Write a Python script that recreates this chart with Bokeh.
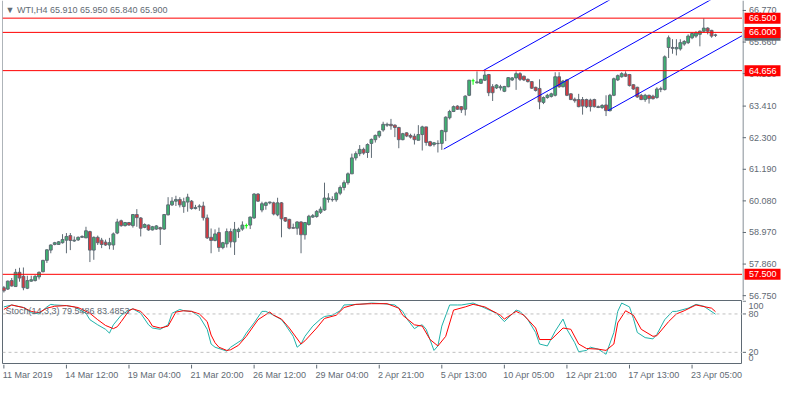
from bokeh.plotting import figure
from bokeh.layouts import column, row
from bokeh.models import Range1d, Span, Label, ColumnDataSource
from bokeh.embed import file_html
from bokeh.resources import INLINE
from bokeh.core.properties import value

# ---------------- data (WTI, H4) ----------------
opens = [57.03, 56.98, 57.28, 57.07, 57.57, 57.43, 57.01, 57.26, 57.28, 57.41,
         57.59, 57.99, 58.35, 58.55, 58.55, 58.61, 58.70, 58.86, 58.67, 58.71,
         58.80, 58.78, 59.00, 58.35, 58.80, 58.70, 58.63, 58.53, 58.53, 58.95,
         59.38, 59.21, 59.32, 59.21, 59.60, 59.48, 59.15, 59.23, 59.06, 59.09,
         59.14, 59.09, 59.59, 59.94, 60.07, 60.13, 59.88, 60.04, 60.07, 59.81,
         59.87, 59.90, 59.48, 58.80, 58.69, 58.97, 58.44, 58.57, 59.00, 58.64,
         59.00, 59.09, 59.21, 59.23, 59.48, 60.32, 59.76, 59.92, 60.01, 60.01,
         59.59, 60.01, 59.49, 59.43, 59.14, 59.12, 59.34, 58.89, 59.25, 59.51,
         59.53, 59.68, 59.76, 60.13, 60.13, 60.12, 60.35, 60.55, 60.72, 61.03,
         61.59, 61.74, 61.89, 61.78, 62.10, 62.23, 62.36, 62.57, 62.74, 62.77,
         62.74, 62.66, 62.23, 62.47, 62.38, 62.35, 62.21, 62.41, 62.68, 62.16,
         62.06, 62.09, 62.10, 62.51, 63.00, 63.22, 63.41, 63.39, 63.30, 63.79,
         64.30, 64.23, 64.21, 64.32, 64.52, 64.09, 64.05, 64.05, 63.93, 64.09,
         64.33, 64.40, 64.55, 64.46, 64.35, 64.27, 64.07, 64.03, 63.54, 63.71,
         63.75, 63.79, 64.44, 64.09, 64.33, 63.84, 63.65, 63.64, 63.64, 63.64,
         63.62, 63.64, 63.39, 63.36, 63.45, 63.25, 63.79, 64.33, 64.44, 64.54,
         64.52, 64.16, 64.07, 63.79, 63.64, 63.79, 63.76, 63.71, 64.00, 63.99,
         65.47, 65.47, 65.42, 65.42, 65.59, 65.64, 65.81, 65.87, 65.93, 66.04,
         66.15, 66.07, 65.91]
highs = [57.09, 57.28, 57.37, 57.69, 57.73, 57.74, 57.45, 57.45, 57.47, 57.60,
         58.01, 58.38, 58.55, 58.64, 58.67, 58.91, 58.95, 58.95, 58.83, 58.83,
         58.87, 59.17, 59.03, 58.83, 58.86, 58.78, 58.72, 58.78, 58.97, 59.45,
         59.42, 59.34, 59.34, 59.62, 59.79, 59.51, 59.29, 59.25, 59.20, 59.23,
         59.17, 59.62, 60.21, 60.21, 60.26, 60.21, 60.19, 60.33, 60.11, 59.94,
         59.96, 60.05, 59.60, 59.11, 59.08, 59.14, 58.64, 59.11, 59.11, 59.34,
         59.14, 59.36, 59.28, 59.53, 60.35, 60.35, 60.05, 60.05, 60.05, 60.05,
         60.19, 60.04, 59.51, 59.45, 59.28, 59.36, 59.36, 59.34, 59.59, 59.62,
         59.76, 59.88, 60.72, 60.35, 60.24, 60.40, 60.62, 60.80, 61.08, 61.74,
         61.82, 62.04, 61.95, 62.10, 62.27, 62.41, 62.55, 62.86, 62.83, 62.96,
         62.77, 62.68, 62.47, 62.49, 62.44, 62.44, 62.74, 62.72, 62.68, 62.19,
         62.15, 62.21, 62.58, 63.05, 63.28, 63.43, 63.44, 63.41, 63.79, 64.33,
         64.37, 64.63, 64.37, 64.65, 64.54, 64.18, 64.18, 64.16, 64.12, 64.43,
         64.43, 64.63, 64.60, 64.48, 64.38, 64.29, 64.09, 64.35, 63.75, 63.84,
         63.88, 64.60, 64.60, 64.33, 64.35, 63.86, 63.71, 63.84, 63.73, 63.67,
         63.67, 63.67, 63.43, 63.48, 63.79, 63.84, 64.41, 64.52, 64.60, 64.63,
         64.54, 64.18, 64.09, 63.84, 63.84, 63.81, 63.81, 64.07, 64.09, 65.19,
         65.89, 65.76, 65.76, 65.76, 65.73, 65.93, 66.00, 66.04, 66.07, 66.49,
         66.18, 66.09, 65.95]
lows = [56.86, 56.95, 57.07, 57.06, 57.24, 56.94, 56.98, 57.24, 57.25, 57.32,
        57.57, 57.90, 58.24, 58.52, 58.53, 58.58, 58.24, 58.35, 58.64, 58.67,
        58.78, 58.78, 57.93, 58.01, 58.53, 58.42, 58.50, 58.38, 58.36, 58.91,
        59.17, 59.18, 59.21, 59.14, 59.17, 58.83, 59.12, 59.03, 59.04, 59.06,
        58.53, 59.06, 59.57, 59.90, 59.90, 59.85, 59.66, 59.70, 59.77, 59.78,
        59.73, 59.39, 58.74, 58.24, 58.66, 58.29, 58.38, 58.44, 58.44, 58.18,
        58.78, 59.03, 59.11, 59.09, 59.45, 60.05, 59.68, 59.77, 59.96, 59.57,
        59.54, 58.80, 59.34, 59.08, 59.11, 58.89, 58.24, 58.72, 59.21, 59.48,
        59.49, 59.62, 59.73, 60.02, 60.05, 60.05, 60.28, 60.45, 60.65, 61.03,
        61.50, 61.65, 61.70, 61.59, 61.59, 62.13, 62.29, 62.51, 62.68, 62.58,
        62.32, 61.93, 62.21, 62.32, 62.27, 62.06, 62.21, 61.85, 62.02, 61.99,
        61.99, 61.78, 61.87, 62.18, 62.94, 63.20, 63.28, 63.17, 63.08, 63.76,
        64.16, 64.20, 64.20, 64.29, 63.76, 63.59, 64.01, 63.96, 63.90, 64.07,
        64.29, 63.98, 64.29, 64.29, 64.24, 64.01, 63.92, 63.30, 63.48, 63.67,
        63.71, 63.75, 64.05, 64.07, 63.76, 63.62, 63.53, 63.37, 63.11, 63.34,
        63.22, 63.36, 63.34, 63.31, 63.06, 63.22, 63.76, 64.29, 64.41, 64.43,
        64.10, 63.98, 63.70, 63.62, 63.56, 63.50, 63.64, 63.67, 63.90, 63.96,
        65.10, 65.25, 65.19, 65.36, 65.53, 65.59, 65.76, 65.81, 65.51, 66.00,
        65.93, 65.81, 65.84]
closes = [56.92, 57.26, 57.09, 57.57, 57.37, 57.03, 57.28, 57.31, 57.43, 57.57,
          57.99, 58.36, 58.53, 58.61, 58.64, 58.72, 58.83, 58.69, 58.70, 58.80,
          58.83, 59.03, 58.35, 58.80, 58.61, 58.55, 58.53, 58.61, 58.92, 59.34,
          59.21, 59.32, 59.23, 59.60, 59.49, 59.12, 59.25, 59.06, 59.17, 59.20,
          59.09, 59.60, 59.94, 60.07, 60.13, 59.94, 60.05, 60.21, 59.81, 59.85,
          59.90, 59.49, 58.78, 58.69, 58.92, 58.44, 58.61, 59.00, 58.64, 59.08,
          59.08, 59.23, 59.21, 59.51, 60.32, 60.07, 59.98, 60.01, 60.04, 59.62,
          60.01, 59.45, 59.37, 59.12, 59.12, 59.34, 58.89, 59.32, 59.54, 59.56,
          59.71, 59.79, 60.18, 60.18, 60.12, 60.35, 60.55, 60.72, 61.03, 61.59,
          61.74, 61.89, 61.76, 62.06, 62.24, 62.38, 62.52, 62.77, 62.77, 62.72,
          62.66, 62.23, 62.44, 62.36, 62.32, 62.23, 62.41, 62.68, 62.13, 62.02,
          62.12, 62.10, 62.55, 63.02, 63.22, 63.39, 63.30, 63.28, 63.76, 64.32,
          64.30, 64.26, 64.35, 64.50, 63.88, 63.88, 64.15, 64.09, 64.10, 64.41,
          64.40, 64.55, 64.35, 64.33, 64.27, 64.04, 63.96, 63.56, 63.71, 63.79,
          63.84, 64.44, 64.09, 64.29, 63.79, 63.64, 63.60, 63.39, 63.41, 63.39,
          63.39, 63.39, 63.36, 63.43, 63.25, 63.79, 64.37, 64.48, 64.55, 64.46,
          64.13, 64.01, 63.73, 63.64, 63.79, 63.67, 63.67, 64.01, 64.02, 65.14,
          65.81, 65.44, 65.47, 65.64, 65.68, 65.87, 65.96, 65.98, 66.04, 66.15,
          66.04, 65.87, 65.90]

price_ticks = [66.77, 65.66, 64.55, 63.41, 62.30, 61.19, 60.08, 58.97, 57.86, 56.75]
levels = [66.5, 66.0, 64.656, 57.5]
level_labels = ["66.500", "66.000", "64.656", "57.500"]
last_price = 65.90
last_label = "65.900"
header_text = "\u25bc WTI,H4  65.910 65.950 65.840 65.900"

# channel (trend) lines: start bar/price, end bar/price
chan_x0 = [122.5, 112.5, 154.5]
chan_y0 = [64.65, 61.90, 63.25]
chan_x1 = [188.9, 188.9, 188.9]
chan_y1 = [69.75, 67.77, 65.89]

# Stochastic(14,3,3) read at bar positions
stoch_k_x = [0, 2, 5, 7, 9, 11, 12, 13, 16, 18, 21, 22, 24, 26, 27, 28, 30, 32, 33, 35,
             37, 38, 40, 42, 43, 45, 46, 48, 50, 52, 53, 54, 57, 58, 61, 62, 64, 66, 67, 69,
             71, 72, 74, 75, 76, 77, 79, 81, 82, 84, 86, 87, 91, 94, 97, 100, 102, 103, 105, 106,
             107, 108, 110, 111, 112, 114, 116, 117, 120, 122, 126, 128, 131, 132, 134, 136, 137, 139, 141, 143,
             144, 146, 147, 149, 150, 152, 154, 156, 157, 158, 160, 161, 162, 164, 166, 167, 169, 171, 172, 175,
             177, 179, 182]
stoch_k = [91, 94, 90, 82, 80, 91, 95, 94, 93, 91, 81, 71, 63, 56, 50, 63, 78, 86, 88, 81,
           63, 58, 56, 63, 81, 87, 85, 84, 76, 56, 33, 28, 22, 28, 40, 50, 66, 84, 84, 78,
           71, 63, 45, 28, 33, 45, 61, 72, 76, 78, 85, 94, 95, 97, 96, 94, 84, 73, 57, 61,
           63, 56, 23, 30, 61, 94, 94, 94, 97, 92, 81, 68, 86, 84, 71, 51, 33, 30, 53, 72,
           56, 35, 21, 23, 28, 25, 17, 51, 84, 97, 91, 73, 51, 43, 41, 48, 71, 84, 84, 89,
           95, 92, 79.5486]
stoch_d_x = [0, 2, 5, 7, 9, 11, 13, 16, 19, 22, 24, 26, 28, 29, 30, 32, 33, 35, 37, 38,
             40, 42, 44, 46, 48, 50, 52, 53, 54, 55, 57, 58, 60, 62, 65, 68, 69, 71, 73, 76,
             77, 80, 82, 85, 87, 90, 94, 98, 101, 102, 105, 107, 109, 111, 113, 115, 118, 120, 123, 127,
             128, 131, 133, 136, 137, 140, 143, 145, 147, 149, 152, 154, 156, 157, 159, 161, 163, 166, 167, 170,
             172, 174, 177, 181, 182]
stoch_d = [87, 94, 90, 84, 82, 89, 92, 93, 90, 81, 71, 62, 57, 60, 68, 85, 88, 84, 71, 61,
           58, 61, 83, 85, 84, 80, 68, 47, 35, 28, 23, 24, 31, 45, 71, 83, 78, 72, 58, 33,
           38, 58, 73, 78, 90, 95, 96, 96, 89, 78, 63, 61, 40, 30, 45, 86, 91, 95, 91, 78,
           72, 84, 78, 58, 40, 40, 58, 56, 33, 26, 25, 23, 33, 66, 85, 78, 56, 45, 46, 68,
           80, 85, 94, 89, 83.4853]
stoch_levels = [80, 20]
stoch_ticks = [0, 20, 80, 100]
stoch_tick_labels = ["0", "20", "80", "100"]
stoch_text = "Stoch(14,3,3) 79.5486 83.4853"

date_tick_idx = [0, 16, 32, 48, 64, 80, 96, 112, 128, 144, 160, 176]
date_labels = ["11 Mar 2019", "14 Mar 12:00", "19 Mar 04:00", "21 Mar 20:00",
               "26 Mar 12:00", "29 Mar 04:00", "2 Apr 21:00", "5 Apr 13:00",
               "10 Apr 05:00", "12 Apr 21:00", "17 Apr 13:00", "23 Apr 05:00"]

# ---------------- styling ----------------
GRAY = "#5f6a74"
UP = "#3cb371"
DOWN = "#d9363e"
DOJI = "#00ff00"
FONT = "Liberation Sans"
FS = "9px"

W = 784
LB, RB = 2, 42
H_P, H_S, H_T = 300, 64, 20
FRAME_W = W - LB - RB
X0, X1 = -0.35, 188.9
Y0, Y1 = 56.58, 67.12
xr = Range1d(X0, X1)
yr_p = Range1d(Y0, Y1)
yr_s = Range1d(1, 101)


def bare(fig):
    fig.grid.visible = False
    fig.background_fill_color = "white"
    fig.border_fill_color = "white"
    return fig


def base(width, height, x_range, y_range, left=0):
    return bare(figure(width=width, height=height, x_range=x_range, y_range=y_range,
                       x_axis_location=None, y_axis_location=None,
                       output_backend="svg", toolbar_location=None,
                       min_border_left=left, min_border_right=0,
                       min_border_top=0, min_border_bottom=0))


# ---------------- price panel ----------------
p = base(LB + FRAME_W, H_P, xr, yr_p, left=LB)
p.outline_line_color = None
p.add_layout(Span(location=X0, dimension="height", line_color=GRAY, line_width=1))
p.add_layout(Span(location=Y0, dimension="width", line_color=GRAY, line_width=1))

n = len(opens)
xs = list(range(n))
is_doji = [o == c for o, c in zip(opens, closes)]
norm = [i for i in xs if not is_doji[i]]
dj = [i for i in xs if is_doji[i]]

csrc = ColumnDataSource(dict(
    x=norm,
    h=[highs[i] for i in norm],
    l=[lows[i] for i in norm],
    top=[max(opens[i], closes[i]) for i in norm],
    bottom=[min(opens[i], closes[i]) for i in norm],
    color=[UP if closes[i] > opens[i] else DOWN for i in norm],
))
p.segment(x0="x", y0="h", x1="x", y1="l", source=csrc, line_color=GRAY, line_width=1)
p.vbar(x="x", width=0.72, top="top", bottom="bottom", source=csrc,
       fill_color="color", line_color=GRAY, line_width=1)

dsrc = ColumnDataSource(dict(
    x=dj, xl=[i - 0.4 for i in dj], xr=[i + 0.4 for i in dj],
    h=[highs[i] for i in dj], l=[lows[i] for i in dj], c=[closes[i] for i in dj]))
p.segment(x0="x", y0="h", x1="x", y1="l", source=dsrc, line_color=DOJI, line_width=1)
p.segment(x0="xl", y0="c", x1="xr", y1="c", source=dsrc, line_color=DOJI, line_width=1)

p.segment(x0=chan_x0, y0=chan_y0, x1=chan_x1, y1=chan_y1, line_color="#0000ff", line_width=1)

for lv in levels:
    p.add_layout(Span(location=lv, dimension="width", line_color="#ff0000", line_width=1))

p.add_layout(Label(x=3, y=H_P - 9, x_units="screen", y_units="screen",
                   text=header_text, text_color=GRAY, text_font=FONT, text_font_size=FS,
                   text_baseline="middle", background_fill_color="white"))

# ---------------- price scale (right) ----------------
pa = base(RB, H_P, Range1d(0, RB), yr_p)
pa.outline_line_color = None
pa.add_layout(Span(location=0.5, dimension="height", line_color=GRAY, line_width=1))
tsrc_p = ColumnDataSource(dict(y=price_ticks, lab=["%.3f" % v for v in price_ticks]))
pa.segment(x0=0, y0="y", x1=3.5, y1="y", source=tsrc_p, line_color=GRAY, line_width=1)
pa.text(x=34, y="y", text="lab", source=tsrc_p, text_align="right", text_baseline="middle",
        text_font=value(FONT), text_font_size=value(FS), text_color=GRAY)


def price_box(ys, labs, color):
    src = ColumnDataSource(dict(y=ys, lab=labs))
    pa.rect(x=20, y="y", width=36, height=11, height_units="screen", source=src,
            fill_color=color, line_color=None)
    pa.text(x=34, y="y", text="lab", source=src, text_align="right", text_baseline="middle",
            text_font=value(FONT), text_font_size=value(FS), text_color="white")


price_box([last_price], [last_label], GRAY)      # current price (mostly hidden)
price_box(levels, level_labels, "#ff0000")       # horizontal level labels

# ---------------- stochastic panel ----------------
s = base(LB + FRAME_W, H_S, xr, yr_s, left=LB)
s.outline_line_color = GRAY
for lv in stoch_levels:
    s.add_layout(Span(location=lv, dimension="width", line_color="#c0c0c0",
                      line_width=1, line_dash="3 3"))
s.line(stoch_k_x, stoch_k, line_color="#20b2aa", line_width=1)
s.line(stoch_d_x, stoch_d, line_color="#ff0000", line_width=1)
s.add_layout(Label(x=3, y=H_S - 10, x_units="screen", y_units="screen", text=stoch_text,
                   text_color=GRAY, text_font=FONT, text_font_size=FS, text_baseline="middle"))

sa = base(RB, H_S, Range1d(0, RB), yr_s)
sa.outline_line_color = None
# labels of 0 and 100 sit inside the panel as in the original
lab_pos = [11 if v == 0 else (92 if v == 100 else v) for v in stoch_ticks]
ssrc = ColumnDataSource(dict(y=stoch_ticks, ly=lab_pos, lab=stoch_tick_labels))
sa.segment(x0=0, y0="y", x1=3.5, y1="y", source=ssrc, line_color=GRAY, line_width=1)
sa.text(x=6, y="ly", text="lab", source=ssrc, text_align="left", text_baseline="middle",
        text_font=value(FONT), text_font_size=value(FS), text_color=GRAY)

# ---------------- time axis ----------------
tx_end = X0 + (X1 - X0) * (W - LB) / FRAME_W
t = base(W, H_T, Range1d(X0, tx_end), Range1d(0, 20), left=LB)
t.outline_line_color = None
dsrc_t = ColumnDataSource(dict(x=date_tick_idx, xt=[i - 0.3 for i in date_tick_idx],
                               label=date_labels))
t.segment(x0="x", y0=20, x1="x", y1=16, source=dsrc_t, line_color=GRAY, line_width=1)
t.text(x="xt", y=10, text="label", source=dsrc_t, text_align="left", text_baseline="middle",
       text_font=value(FONT), text_font_size=value(FS), text_color=GRAY)

layout = column(row(p, pa, spacing=0), row(s, sa, spacing=0), t, spacing=0)
open("out.html", "w").write(file_html(layout, INLINE))
